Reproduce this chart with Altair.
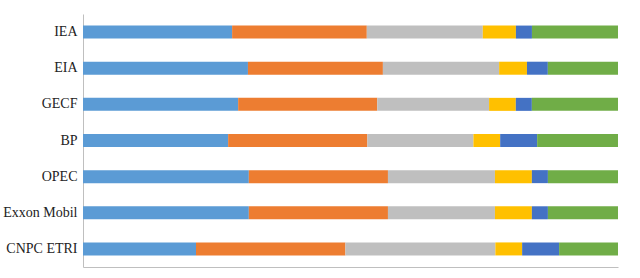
import altair as alt
import pandas as pd

agencies = ["IEA", "EIA", "GECF", "BP", "OPEC", "Exxon Mobil", "CNPC ETRI"]
series = ["Oil", "Gas", "Coal", "Nuclear", "Hydro", "Renewables"]
colors = ["#5B9BD5", "#ED7D31", "#BFBFBF", "#FFC000", "#4472C4", "#70AD47"]

oil        = [27.9, 30.8, 29.0, 27.1, 31.0, 31.0, 21.1]
gas        = [25.2, 25.2, 26.0, 26.0, 26.0, 26.0, 27.9]
coal       = [21.7, 21.7, 20.9, 19.8, 20.0, 20.0, 28.0]
nuclear    = [6.2, 5.2, 5.0, 5.0, 6.9, 6.9, 5.0]
hydro      = [3.0, 3.9, 3.0, 6.9, 3.0, 3.0, 6.9]
renewables = [16.1, 13.1, 16.1, 15.1, 13.1, 13.1, 11.0]

values = [oil, gas, coal, nuclear, hydro, renewables]
rows = []
for si, (name, vals) in enumerate(zip(series, values)):
    for a, v in zip(agencies, vals):
        rows.append({"agency": a, "source": name, "share": v, "ord": si})
df = pd.DataFrame(rows)

chart = alt.Chart(df).mark_bar().encode(
    y=alt.Y("agency:N", sort=agencies,
            scale=alt.Scale(paddingInner=0.64, paddingOuter=0.32),
            axis=alt.Axis(title=None, ticks=False, domainColor="#BFBFBF",
                          labelFont="Liberation Serif", labelFontSize=14,
                          labelColor="#222222", labelPadding=6)),
    x=alt.X("share:Q", stack="normalize",
            axis=alt.Axis(title=None, labels=False, ticks=False, grid=False,
                          domainColor="#BFBFBF")),
    color=alt.Color("source:N", sort=series,
                    scale=alt.Scale(domain=series, range=colors), legend=None),
    order=alt.Order("ord:Q", sort="ascending"),
).properties(
    width=535, height=253,
    autosize=alt.AutoSizeParams(type="none"),
    padding={"left": 83, "top": 14, "right": 22, "bottom": 11},
).configure_view(stroke=None)

chart.save("out.html", embed_options={"renderer": "svg", "actions": False})
